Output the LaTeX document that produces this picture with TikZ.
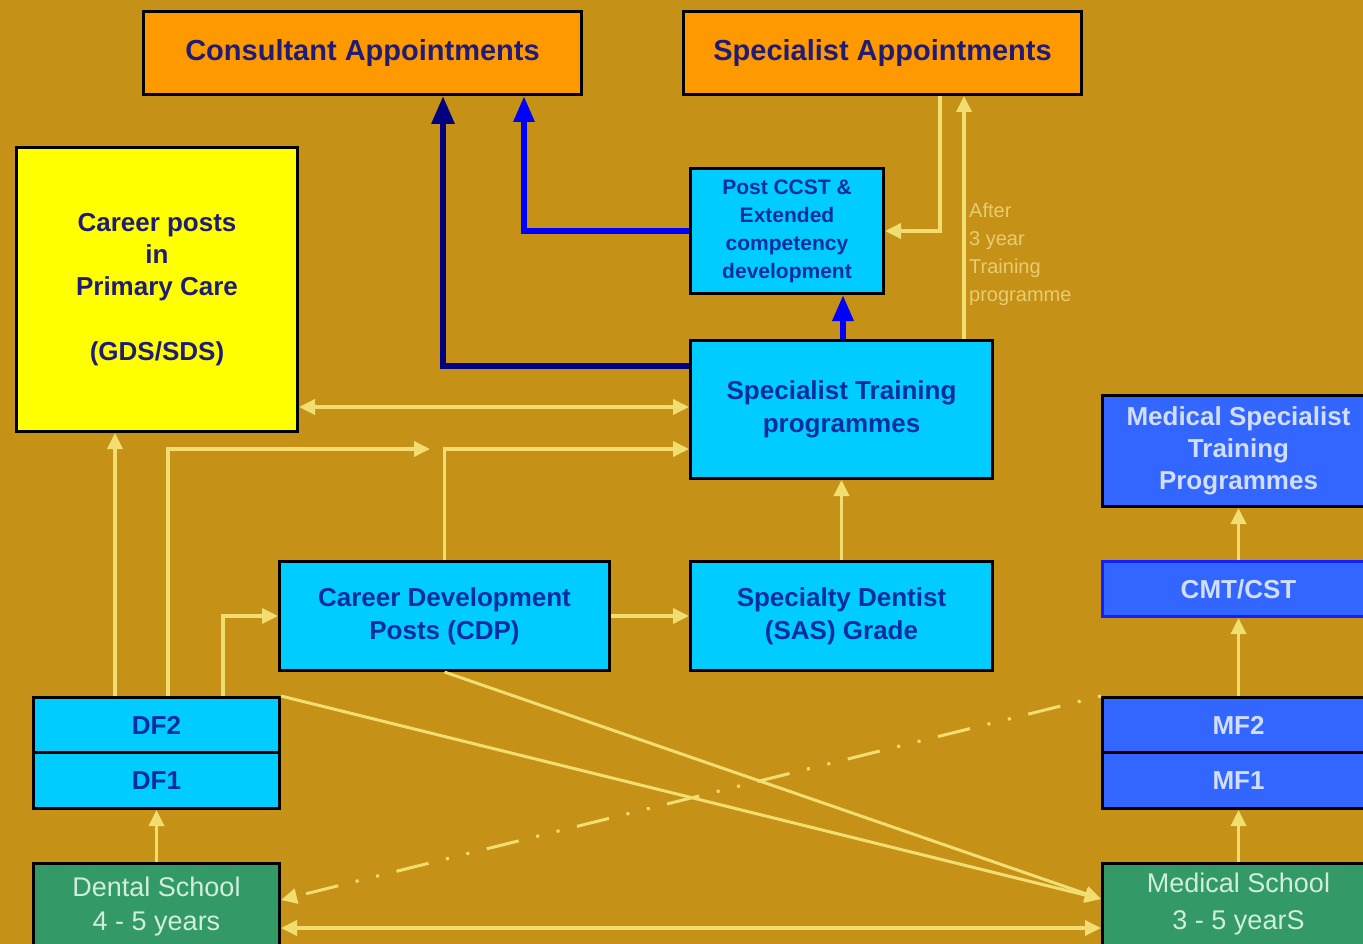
\documentclass[tikz,border=0pt]{standalone}
\usepackage{fontspec}
\setmainfont{Liberation Sans}
\usetikzlibrary{arrows.meta,calc}
\definecolor{bgc}{RGB}{197,146,23}
\definecolor{ylw}{RGB}{242,222,112}
\definecolor{cyanbox}{RGB}{0,204,255}
\definecolor{orangebox}{RGB}{255,153,0}
\definecolor{yellowbox}{RGB}{255,255,0}
\definecolor{medblue}{RGB}{51,102,255}
\definecolor{greenbox}{RGB}{51,153,102}
\definecolor{navyln}{RGB}{0,0,128}
\definecolor{blueln}{RGB}{0,0,255}
\definecolor{cyantext}{RGB}{0,45,160}
\definecolor{navytext}{RGB}{32,28,118}
\definecolor{lighttext}{RGB}{210,222,255}
\definecolor{greentext}{RGB}{208,238,220}
\definecolor{lbltext}{RGB}{232,205,112}
\definecolor{cmtborder}{RGB}{20,30,255}
\begin{document}
\begin{tikzpicture}[x=1pt,y=-1pt,
  basebox/.style={draw=black,line width=3pt,anchor=north west,inner sep=0pt,outer sep=1.5pt,align=center},
  obox/.style={basebox,fill=orangebox,text=navytext,font=\bfseries\fontsize{29}{34}\selectfont},
  ybox/.style={basebox,fill=yellowbox,text=navytext,font=\bfseries\fontsize{26}{32}\selectfont},
  cbox/.style={basebox,fill=cyanbox,text=cyantext,font=\bfseries\fontsize{26}{33}\selectfont},
  mbox/.style={basebox,fill=medblue,text=lighttext,font=\bfseries\fontsize{26}{32}\selectfont},
  gbox/.style={basebox,fill=greenbox,text=greentext,font=\fontsize{27}{34}\selectfont},
  yl/.style={draw=ylw,line width=3.5pt,-{Triangle[length=16pt,width=15pt]}},
  yll/.style={draw=ylw,line width=3.5pt,{Triangle[length=16pt,width=15pt]}-{Triangle[length=16pt,width=15pt]}},
  ydd/.style={draw=ylw,line width=3pt,dash pattern=on 33pt off 18pt on 3pt off 18pt on 3pt off 18pt,dash phase=51pt,-{Triangle[length=16pt,width=15pt]}},
  navyarr/.style={draw=navyln,line width=6pt,-{Triangle[length=28pt,width=22pt]}},
  bluearr/.style={draw=blueln,line width=6pt,-{Triangle[length=26pt,width=20pt]}},
  lbl/.style={anchor=north west,inner sep=0pt,align=left,text=lbltext,font=\fontsize{20}{28}\selectfont}
]
\useasboundingbox (0,0) rectangle (1363,944);
\fill[bgc] (0,0) rectangle (1363,944);
\clip (0,0) rectangle (1363,944);

% helper coordinates
\coordinate (v115) at (115,0);
\coordinate (v168) at (168,0);
\coordinate (v223) at (223,0);
\coordinate (v443) at (443,0);
\coordinate (v524) at (524,0);
\coordinate (v843) at (843,0);
\coordinate (v940) at (940,0);
\coordinate (v964) at (964,0);
\coordinate (h366) at (0,366);
\coordinate (h407) at (0,407);
\coordinate (h449) at (0,449);
\coordinate (h928) at (0,928);
\coordinate (free430) at (430,449);

% nodes
\node[obox, minimum width=438pt, minimum height=83pt] (ca) at (142,10) {Consultant Appointments};
\node[obox, minimum width=398pt, minimum height=83pt] (sa) at (682,10) {Specialist Appointments};
\node[ybox, minimum width=281pt, minimum height=284pt] (cp) at (15,146) {Career posts\\in\\Primary Care\\[33pt](GDS/SDS)};
\node[cbox, font=\bfseries\fontsize{21}{28}\selectfont, minimum width=193pt, minimum height=125pt] (pc) at (689,167) {Post CCST \&\\Extended\\competency\\development};
\node[cbox, minimum width=302pt, minimum height=138pt] (st) at (689,339) {Specialist Training\\programmes};
\node[mbox, minimum width=272pt, minimum height=111pt] (msp) at (1101,394) {Medical Specialist\\Training\\Programmes};
\node[mbox, draw=cmtborder, minimum width=272pt, minimum height=55pt] (cmt) at (1101,560) {CMT/CST};
\node[cbox, minimum width=330pt, minimum height=109pt] (cdp) at (278,560) {Career Development\\Posts (CDP)};
\node[cbox, minimum width=302pt, minimum height=109pt] (sas) at (689,560) {Specialty Dentist\\(SAS) Grade};
\node[cbox, minimum width=246pt, minimum height=55pt] (df2) at (32,696) {DF2};
\node[cbox, minimum width=246pt, minimum height=56pt] (df1) at (32,751) {DF1};
\node[mbox, minimum width=272pt, minimum height=55pt] (mf2) at (1101,696) {MF2};
\node[mbox, minimum width=272pt, minimum height=56pt] (mf1) at (1101,751) {MF1};
\node[gbox, minimum width=246pt, minimum height=86pt] (ds) at (32,862) {Dental School\\4 - 5 years};
\node[gbox, font=\fontsize{27}{37}\selectfont, minimum width=272pt, minimum height=86pt, text depth=10pt] (ms) at (1101,862) {Medical School\\3 - 5 yearS};
\node[lbl] (aft) at (969,203) {After\\3 year\\Training\\programme};

\coordinate (msin) at ($(ms.north west)+(0,37)$);
\coordinate (dsin) at ($(ds.north east)+(0,38)$);

% blue / navy connectors
\draw[navyarr] (st.west |- h366) -| (ca.south -| v443);
\draw[bluearr] (pc.west) -| (ca.south -| v524);
\draw[bluearr] (st.north -| v843) -- (pc.south -| v843);

% yellow connectors
\draw[yl] (sa.south -| v940) |- (pc.east);
\draw[yl] (st.north -| v964) -- (sa.south -| v964);
\draw[yll] (cp.east |- h407) -- (st.west |- h407);
\draw[yl] (df2.north -| v115) -- (cp.south -| v115);
\draw[yl] (df2.north -| v168) |- (free430);
\draw[yl] (cdp.north) |- (st.west |- h449);
\draw[yl] (df2.north -| v223) |- (cdp.west);
\draw[yl] (cdp.east) -- (sas.west);
\draw[yl] (sas.north) -- (st.south);
\draw[yl] (ds.north) -- (df1.south);
\draw[yl] (ms.north) -- (mf1.south);
\draw[yl] (mf2.north) -- (cmt.south);
\draw[yl] (cmt.north) -- (msp.south);
\draw[yll] (ds.east |- h928) -- (ms.west |- h928);
\draw[yl, line width=3pt] (df2.north east) -- (msin);
\draw[yl, line width=3pt] (cdp.south) -- (msin);
\draw[ydd] (mf2.north west) -- (dsin);
\end{tikzpicture}
\end{document}
